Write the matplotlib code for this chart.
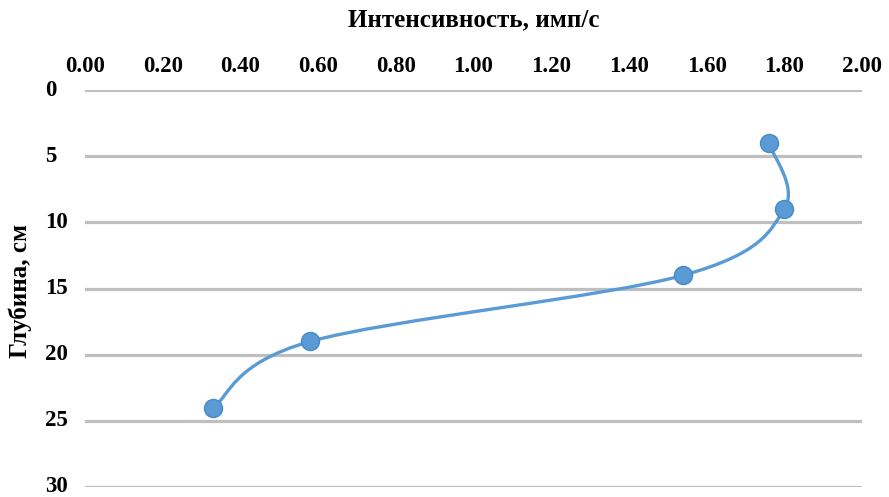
import numpy as np
import matplotlib.pyplot as plt
from matplotlib.path import Path
from matplotlib.patches import PathPatch

# Данные профиля
intensity = [1.76, 1.80, 1.54, 0.58, 0.33]   # имп/с
depth = [4, 9, 14, 19, 24]                    # см
x_ticks = [0.0, 0.2, 0.4, 0.6, 0.8, 1.0, 1.2, 1.4, 1.6, 1.8, 2.0]
y_ticks = [0, 5, 10, 15, 20, 25, 30]

plt.rcParams['font.family'] = 'Liberation Serif'
plt.rcParams['font.weight'] = 'bold'

W, H = 889, 497
fig = plt.figure(figsize=(W / 100, H / 100), dpi=100)
ax = fig.add_axes([85 / W, 1 - 487 / H, 777 / W, 397 / H])

ax.set_xlim(0, 2)
ax.set_ylim(30, 0)
ax.xaxis.tick_top()
ax.xaxis.set_label_position('top')
ax.set_xticks(x_ticks)
ax.set_xticklabels(['%.2f' % v for v in x_ticks])
ax.set_yticks(y_ticks)
ax.tick_params(length=0, labelsize=16.5)
ax.tick_params(axis='x', pad=9)
ax.tick_params(axis='y', pad=29)
for lbl in ax.get_yticklabels():
    lbl.set_horizontalalignment('left')
    lbl.set_verticalalignment('center')
for s in ax.spines.values():
    s.set_visible(False)
ax.grid(axis='y', color='#BFBFBF', lw=2.3)
ax.set_axisbelow(True)

ax.set_xlabel('Интенсивность, имп/с', fontsize=18, fontweight='bold', va='center')
ax.xaxis.set_label_coords(0.5, 1 + 70 / 397)
ax.set_ylabel('Глубина, см', fontsize=18, fontweight='bold', va='center')
ax.yaxis.set_label_coords(-65 / 777, 0.5 - 2 / 397)

# сглаженная линия как в Excel (кривые Безье в экранных координатах)
fig.canvas.draw()
pts = ax.transData.transform(np.column_stack([intensity, depth]))
n = len(pts)
verts = [pts[0]]
codes = [Path.MOVETO]
for i in range(n - 1):
    p0 = pts[i - 1] if i > 0 else pts[i]
    p1 = pts[i]
    p2 = pts[i + 1]
    p3 = pts[i + 2] if i + 2 < n else pts[i + 1]
    c1 = p1 + (p2 - p0) / 6
    c2 = p2 - (p3 - p1) / 6
    verts += [c1, c2, p2]
    codes += [Path.CURVE4] * 3
inv = ax.transData.inverted()
path = Path(inv.transform(np.array(verts)), codes)
ax.add_patch(PathPatch(path, facecolor='none', edgecolor='#5B9BD5', lw=2.4, zorder=3))
ax.plot(intensity, depth, 'o', color='#5B9BD5', markersize=13,
        markeredgecolor='#4A8AC4', markeredgewidth=1, zorder=4)

fig.savefig('out.png', dpi=100)
